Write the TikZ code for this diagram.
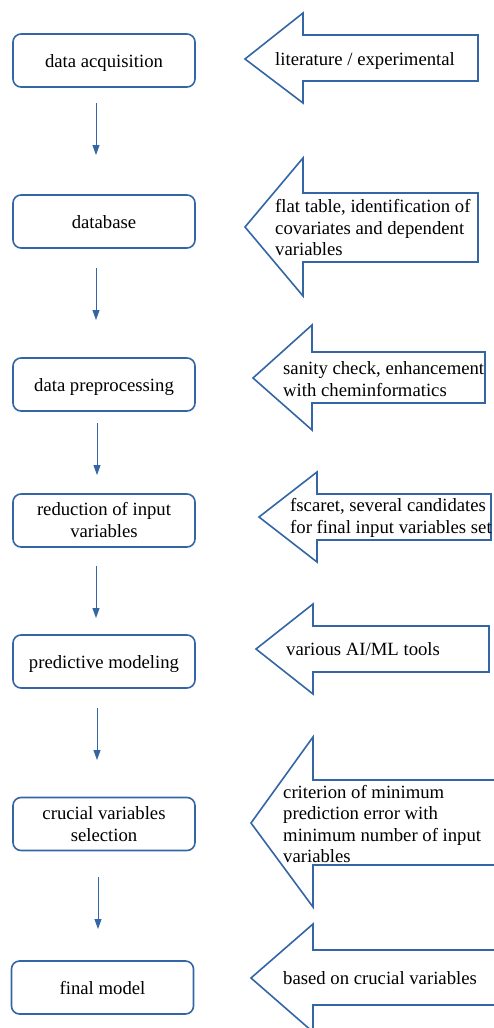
\documentclass[tikz,border=0pt]{standalone}
\usepackage{fontspec}
\setmainfont{Liberation Serif}
\usetikzlibrary{arrows.meta}
\definecolor{lblue}{HTML}{3465A4}
\begin{document}
\begin{tikzpicture}[x=1pt,y=-1pt,
  stepbox/.style={draw=lblue, line width=1.6pt, rounded corners=8pt, minimum width=182pt, minimum height=53pt, align=center, inner sep=0pt, font=\fontsize{18.7}{22}\selectfont},
  oneline/.style={text height=14.5pt, text depth=0.5pt},
  onenote/.style={text height=13pt, text depth=0pt},
  flow/.style={draw=lblue, line width=0.9pt, -{Triangle[length=10pt,width=7pt]}},
  bigarrow/.style={draw=lblue, line width=1.6pt, line join=miter},
  note/.style={anchor=west, align=left, inner sep=0pt, font=\fontsize{18.7}{21.5}\selectfont}]
\useasboundingbox (0,0) rectangle (494,1028);
\clip (0,0) rectangle (494,1028);
% left process boxes
\node[stepbox,oneline] (b1) at (104,60.5) {data acquisition};
\node[stepbox,oneline] (b2) at (104,221.5) {database};
\node[stepbox,oneline] (b3) at (104,384.5) {data preprocessing};
\node[stepbox] (b4) at (104,520.5) {reduction of input\\variables};
\node[stepbox,oneline] (b5) at (104,661.5) {predictive modeling};
\node[stepbox] (b6) at (104,824) {crucial variables\\selection};
\node[stepbox,oneline] (b7) at (102.5,987.5) {final model};
% vertical connectors
\coordinate (a1s) at (96,103);  \coordinate (a1e) at (96,155);
\coordinate (a2s) at (96,268);  \coordinate (a2e) at (96,320);
\coordinate (a3s) at (97,423);  \coordinate (a3e) at (97,475);
\coordinate (a4s) at (96,566);  \coordinate (a4e) at (96,618);
\coordinate (a5s) at (97,708);  \coordinate (a5e) at (97,760);
\coordinate (a6s) at (98,877);  \coordinate (a6e) at (98,929);
\draw[flow] (a1s) -- (a1e);
\draw[flow] (a2s) -- (a2e);
\draw[flow] (a3s) -- (a3e);
\draw[flow] (a4s) -- (a4e);
\draw[flow] (a5s) -- (a5e);
\draw[flow] (a6s) -- (a6e);
% big left-pointing arrows
\draw[bigarrow] (245,59) -- (303,13) -- (303,35) -- (478,35) -- (478,81) -- (303,81) -- (303,103) -- cycle;
\node[note,onenote] (n1) at (275,59) {literature / experimental};
\draw[bigarrow] (245,227) -- (303,158) -- (303,193) -- (478,193) -- (478,262) -- (303,262) -- (303,296) -- cycle;
\node[note] (n2) at (275,228) {flat table, identification of\\covariates and dependent\\variables};
\draw[bigarrow] (253,378) -- (312,325) -- (312,352) -- (485,352) -- (485,403) -- (312,403) -- (312,430) -- cycle;
\node[note] (n3) at (283,379) {sanity check, enhancement\\with cheminformatics};
\draw[bigarrow] (259,517) -- (317,472) -- (317,494) -- (491,494) -- (491,540) -- (317,540) -- (317,562) -- cycle;
\node[note] (n4) at (290,518) {fscaret, several candidates\\for final input variables set};
\draw[bigarrow] (256,649) -- (313,604) -- (313,626) -- (489,626) -- (489,672) -- (313,672) -- (313,694) -- cycle;
\node[note,onenote] (n5) at (286,649) {various AI/ML tools};
\draw[bigarrow] (251,823) -- (313,737) -- (313,780) -- (510,780) -- (510,865) -- (313,865) -- (313,907) -- cycle;
\node[note] (n6) at (283,824) {criterion of minimum\\prediction error with\\minimum number of input\\variables};
\draw[bigarrow] (251,978) -- (313,924) -- (313,950) -- (510,950) -- (510,1005) -- (313,1005) -- (313,1032) -- cycle;
\node[note,onenote] (n7) at (283,978) {based on crucial variables};
\end{tikzpicture}
\end{document}
